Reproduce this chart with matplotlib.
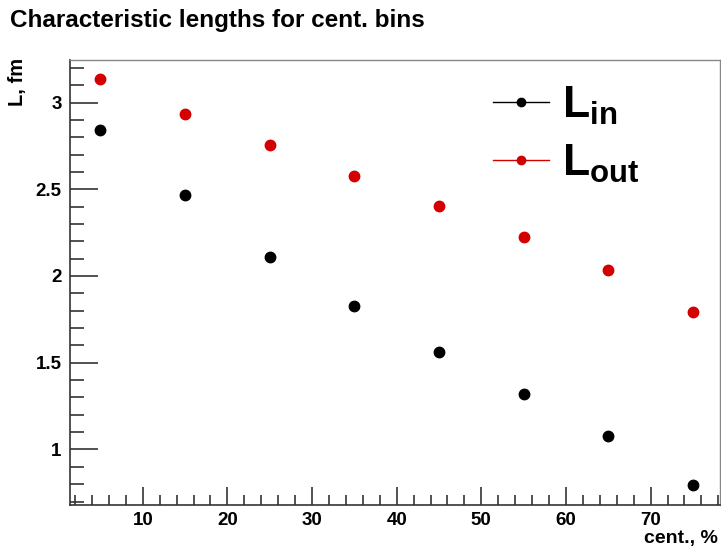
import matplotlib.pyplot as plt
from matplotlib.lines import Line2D
from matplotlib.ticker import MultipleLocator

plt.rcParams['font.family'] = ['Liberation Sans', 'DejaVu Sans']
plt.rcParams['font.weight'] = 'bold'
plt.rcParams['mathtext.fontset'] = 'custom'
plt.rcParams['mathtext.rm'] = 'Liberation Sans:bold'
plt.rcParams['mathtext.bf'] = 'Liberation Sans:bold'
plt.rcParams['mathtext.it'] = 'Liberation Sans:bold'

# data
cent = [5, 15, 25, 35, 45, 55, 65, 75]
l_in = [2.84, 2.465, 2.11, 1.825, 1.56, 1.32, 1.075, 0.795]
l_in_err = [0.005, 0.005, 0.005, 0.005, 0.005, 0.006, 0.007, 0.008]
l_out = [3.135, 2.932, 2.755, 2.578, 2.403, 2.225, 2.035, 1.792]
l_out_err = [0.006, 0.006, 0.006, 0.007, 0.008, 0.01, 0.012, 0.022]

fig = plt.figure(figsize=(7.21, 5.51), dpi=100)
ax = fig.add_axes([70 / 721, 1 - 505 / 551, 650 / 721, 445 / 551])

ax.errorbar(cent, l_in, yerr=l_in_err, fmt='o', color='black', ms=7.5, capsize=0, lw=1)
ax.errorbar(cent, l_out, yerr=l_out_err, fmt='o', color='#d40000', ms=7.5, capsize=0, lw=1)

ax.set_xlim(1.4, 78.2)
ax.set_ylim(0.68, 3.245)
ax.xaxis.set_major_locator(MultipleLocator(10))
ax.xaxis.set_minor_locator(MultipleLocator(2))
ax.yaxis.set_major_locator(MultipleLocator(0.5))
ax.yaxis.set_minor_locator(MultipleLocator(0.1))
ax.tick_params(axis='both', which='both', direction='in', labelsize=13.5, colors='#333333', labelcolor='black')
ax.tick_params(axis='y', which='major', length=20, width=1.2, pad=6)
ax.tick_params(axis='y', which='minor', length=10, width=1.2)
ax.tick_params(axis='x', which='major', length=13, width=1.2, pad=5)
ax.tick_params(axis='x', which='minor', length=7, width=1.2)
ax.yaxis.set_major_formatter(plt.FuncFormatter(lambda v, p: f"{v:g}"))

for side in ['left', 'bottom']:
    ax.spines[side].set_color('#333333')
    ax.spines[side].set_linewidth(1.2)
for side in ['top', 'right']:
    ax.spines[side].set_color('#888888')
    ax.spines[side].set_linewidth(1)

fig.text(10 / 721, 1 - 20 / 551, 'Characteristic lengths for cent. bins', fontsize=17.5,
         fontweight='bold', va='center', ha='left')
fig.text(17 / 721, 1 - 58 / 551, 'L, fm', fontsize=14.5, fontweight='bold', rotation=90,
         va='top', ha='center')
fig.text(718 / 721, 1 - 538 / 551, 'cent., %', fontsize=14, fontweight='bold',
         va='center', ha='right')

handles = [Line2D([], [], color='black', marker='o', ms=6, lw=1),
           Line2D([], [], color='#d40000', marker='o', ms=6, lw=1)]
ax.legend(handles, [r'$\mathrm{L}_{\mathrm{in}}$', r'$\mathrm{L}_{\mathrm{out}}$'],
          loc='upper left', bbox_to_anchor=(493 / 721, 1 - 85 / 551),
          bbox_transform=fig.transFigure, frameon=False, fontsize=32,
          borderpad=0, borderaxespad=0,
          handlelength=1.26, handletextpad=0.29, labelspacing=0.35)

fig.savefig('out.png', dpi=100)
